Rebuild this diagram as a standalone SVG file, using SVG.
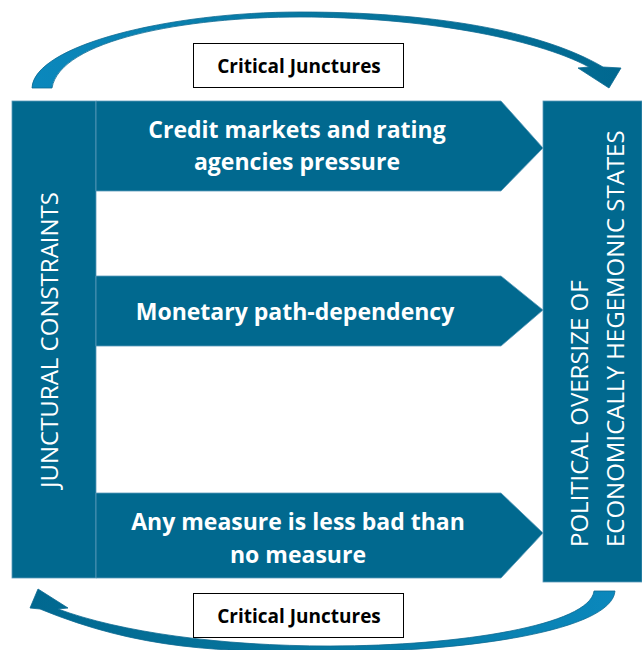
<svg xmlns="http://www.w3.org/2000/svg" width="642" height="650" viewBox="0 0 642 650">
  <defs>
    <linearGradient id="gTop" x1="30" y1="0" x2="620" y2="0" gradientUnits="userSpaceOnUse">
      <stop offset="0" stop-color="#0b88bd"/>
      <stop offset="0.5" stop-color="#07779f"/>
      <stop offset="1" stop-color="#016890"/>
    </linearGradient>
    <linearGradient id="gBot" x1="620" y1="0" x2="30" y2="0" gradientUnits="userSpaceOnUse">
      <stop offset="0" stop-color="#0b88bd"/>
      <stop offset="0.5" stop-color="#07779f"/>
      <stop offset="1" stop-color="#016890"/>
    </linearGradient>
  </defs>
  <style>
    .blk { fill: #01698f; stroke: #5b9aba; stroke-width: 0.8; }
    .band { font-family: "Open Sans", "Liberation Sans", sans-serif; font-weight: 700; font-size: 23px; fill: #ffffff; text-anchor: middle; }
    .vert { font-family: "Open Sans", "Liberation Sans", sans-serif; font-weight: 400; font-size: 24px; fill: #ffffff; }
    .cjbox { fill: #ffffff; stroke: #000000; stroke-width: 1; }
    .cjtxt { font-family: "Open Sans", "Liberation Sans", sans-serif; font-weight: 700; font-size: 19px; fill: #000000; text-anchor: middle; }
    .curve { stroke: #0c6a92; stroke-width: 0.8; }
  </style>

  <g id="connectors">
    <path class="curve" fill="url(#gTop)" d="M 32,88 C 34,45 170,12 300,12 C 430,12 540,30 603,67 L 621,68 L 609,88 L 578,68 L 589,67 C 535,38 420,17 300,17 C 185,17 60,40 52,88 Z"/>
    <path class="curve" fill="url(#gBot)" d="M 615,591 C 612,630 470,652 330,652 C 220,652 140,650 40,609 L 30,608 L 38,589 L 68,608 L 58,609 C 120,632 220,646 330,646 C 460,646 590,625 594,591 Z"/>
  </g>

  <g id="junctural-constraints">
    <rect class="blk" x="12" y="101" width="84" height="477"/>
    <text class="vert" transform="translate(58,340) rotate(-90)" text-anchor="middle">JUNCTURAL CONSTRAINTS</text>
  </g>

  <g id="credit-markets">
    <polygon class="blk" points="96,101 501,101 543,148 501,191 96,191"/>
    <text class="band" x="297" y="138">Credit markets and rating</text>
    <text class="band" x="297" y="170">agencies pressure</text>
  </g>

  <g id="monetary">
    <polygon class="blk" points="96,276 501,276 543,310 501,346 96,346"/>
    <text class="band" x="295" y="320">Monetary path-dependency</text>
  </g>

  <g id="any-measure">
    <polygon class="blk" points="96,493 501,493 543,533 501,578 96,578"/>
    <text class="band" x="298" y="530">Any measure is less bad than</text>
    <text class="band" x="298" y="563">no measure</text>
  </g>

  <g id="political-oversize">
    <rect class="blk" x="543" y="101" width="99" height="481"/>
    <text class="vert" transform="translate(588,547) rotate(-90)">POLITICAL OVERSIZE OF</text>
    <text class="vert" transform="translate(624,547) rotate(-90)">ECONOMICALLY HEGEMONIC STATES</text>
  </g>

  <g id="critical-junctures-top">
    <rect class="cjbox" x="193.5" y="43.5" width="210" height="44"/>
    <text class="cjtxt" x="299" y="73">Critical Junctures</text>
  </g>

  <g id="critical-junctures-bottom">
    <rect class="cjbox" x="193.5" y="593.5" width="210" height="44"/>
    <text class="cjtxt" x="299" y="623">Critical Junctures</text>
  </g>
</svg>
